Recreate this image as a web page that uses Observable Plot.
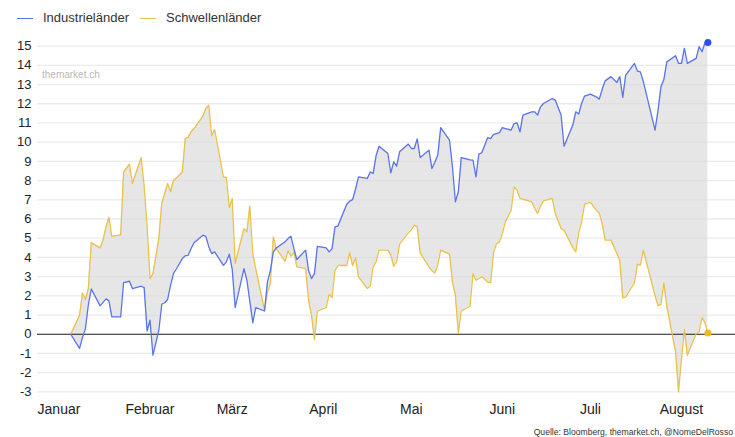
<!DOCTYPE html>
<html>
<head>
<meta charset="utf-8">
<script src="https://cdn.jsdelivr.net/npm/d3@7"></script>
<script src="https://cdn.jsdelivr.net/npm/@observablehq/plot@0.6"></script>
<style>
  body { margin: 0; background: #ffffff; font-family: "Liberation Sans", Arial, sans-serif; width: 735px; height: 437px; overflow: hidden; position: relative; }
  #legend { height: 34px; position: relative; font-size: 13px; color: #333; }
  .item { position: absolute; top: 11px; display: flex; align-items: center; line-height: 14px; }
  .sw { width: 16px; height: 0; border-top: 1.5px solid; margin-right: 10px; }
  #chart { position: relative; height: 386px; }
  #wm { position: absolute; left: 42px; top: 69px; font-size: 10px; color: #b8b8b8; }
  #caption { position: absolute; right: 2px; top: 427px; font-size: 8.6px; white-space: nowrap; color: #333; }
</style>
</head>
<body>
<div id="legend"></div>
<div id="chart"></div>
<div id="wm">themarket.ch</div>
<div id="caption"></div>
<script>
// Tage seit 1. Januar
const tage = [4,7,8,9,10,11,14,15,16,17,18,21,22,24,25,28,29,30,31,32,34,35,36,37,38,39,40,42,43,44,45,46,49,50,51,52,53,56,57,58,59,60,63,64,65,66,67,70,71,72,73,74,77,78,79,80,81,84,85,86,87,88,91,92,93,94,95,98,99,100,101,102,105,106,107,108,109,112,113,114,115,116,119,120,121,122,123,126,127,128,129,130,133,134,135,136,137,140,141,142,143,144,146,147,148,149,150,151,152,154,155,156,157,158,161,162,163,164,165,168,169,171,172,175,176,177,178,179,181,183,184,185,186,188,190,191,192,193,196,197,198,199,203,204,205,206,207,210,211,212,213,214,217,218,219,220,221];
const industrie = [0,-0.73,-0.17,0.29,1.54,2.36,1.48,1.66,1.84,1.74,0.90,0.90,2.69,2.76,2.38,2.50,2.43,0.17,0.73,-1.09,0.21,1.56,1.64,1.81,2.56,3.17,3.41,3.94,4.09,4.11,4.47,4.76,5.16,5.10,4.56,4.20,4.29,3.59,3.77,4.17,3.38,1.39,3.42,2.81,1.71,0.59,1.39,1.21,2.73,3.33,4.29,4.49,4.82,4.98,5.10,4.46,3.89,4.38,3.32,2.90,3.16,4.58,4.50,4.29,4.46,5.59,5.63,6.77,6.93,7.01,7.55,8.19,8.11,8.45,8.37,9.30,9.79,9.41,8.40,8.97,8.75,9.50,9.90,9.67,9.67,10.17,9.20,9.58,8.63,8.95,9.32,10.76,10.10,8.71,6.89,7.42,9.20,9.08,9.06,8.19,9.38,9.45,10.24,10.19,10.40,10.45,10.49,10.76,10.71,10.63,10.97,11.01,10.54,11.41,11.58,11.58,11.41,11.84,12.01,12.27,12.19,11.41,9.79,10.89,11.58,11.46,12.03,12.40,12.50,12.36,12.24,12.75,13.19,13.41,13.11,13.41,12.33,13.49,14.10,13.70,13.66,13.16,10.63,11.64,12.88,13.26,14.18,14.50,14.10,14.10,14.88,14.10,14.36,14.97,14.71,15.17,15.19];
const schwellen = [0,0.99,2.15,1.81,2.38,4.77,4.50,4.90,5.60,6.08,5.10,5.17,8.45,8.85,7.85,9.20,7.71,5.66,2.90,3.15,4.98,6.83,7.33,7.85,7.42,8.02,8.14,8.45,10.19,10.25,10.54,10.71,11.35,11.75,11.93,10.33,10.66,8.19,8.16,6.60,7.07,3.68,5.50,5.33,6.68,4.20,3.42,1.25,2.18,2.64,5.07,4.46,3.80,4.34,4.06,4.27,3.51,3.42,1.77,0.98,-0.28,1.21,1.39,2.08,1.91,3.33,3.58,3.58,4.24,3.58,3.99,2.99,2.38,2.50,3.51,3.77,4.38,4.38,4.13,3.54,3.77,4.69,5.28,5.45,5.68,5.59,4.24,3.51,3.31,3.19,3.61,4.38,4.17,2.72,2.03,0.07,1.21,1.46,3.16,2.81,2.90,2.99,2.72,2.69,4.24,4.72,4.81,5.23,5.85,6.46,7.67,7.50,7.07,7.03,6.89,6.56,6.29,6.67,6.94,7.07,6.29,5.50,5.42,4.51,4.29,5.28,5.85,6.77,6.86,6.46,6.29,5.76,4.90,4.90,4.20,3.85,1.89,1.94,2.69,3.65,3.59,4.38,2.01,1.49,1.56,2.67,1.46,-0.92,-3.00,-1.27,0.24,-1.09,0.04,0.12,0.87,0.59,0.07];
const serien = ["Industrieländer", "Schwellenländer"];
const farben = ["#5b73ec", "#e9c24c"];
const punktFarben = ["#2d4fe8", "#efbb1c"];
const monate = ["Januar", "Februar", "März", "April", "Mai", "Juni", "Juli", "August"];
const yTicks = d3.range(-3, 16);
const quelle = "Quelle: Bloomberg, themarket.ch, @NomeDelRosso";

const start = Date.UTC(2023, 0, 1);
const tagMs = 864e5;
const table = tage.map((t, i) => ({
  datum: new Date(start + t * tagMs),
  ind: industrie[i],
  sch: schwellen[i]
}));
const last = [table[table.length - 1]];
const monatsTicks = monate.map((m, i) => new Date(Date.UTC(2023, i, 1)));

// legend
const legend = document.getElementById("legend");
const lefts = [17, 140];
serien.forEach((s, i) => {
  const it = document.createElement("div");
  it.className = "item";
  it.style.left = lefts[i] + "px";
  it.innerHTML = `<span class="sw" style="border-color:${farben[i]}"></span><span>${s}</span>`;
  legend.appendChild(it);
});
document.getElementById("caption").textContent = quelle;

const chart = Plot.plot({
  width: 735,
  height: 386,
  marginTop: 2,
  marginBottom: 19,
  marginLeft: 37,
  marginRight: 0,
  style: { fontFamily: "Liberation Sans, Arial, sans-serif", fontSize: "13px", color: "#222", background: "transparent" },
  x: { type: "utc", domain: [new Date(start - 7.32 * tagMs), new Date(start + 230.4 * tagMs)] },
  y: { domain: [-3.5, 15.5] },
  marks: [
    Plot.ruleY(yTicks.filter(v => v !== 0), { stroke: "#ebebeb", strokeWidth: 1.3 }),
    Plot.areaY(table, { x: "datum", y1: "ind", y2: "sch", fill: "#d9d9d9", fillOpacity: 0.65 }),
    Plot.ruleY([0], { stroke: "#1a1a1a", strokeWidth: 1.1 }),
    Plot.lineY(table, { x: "datum", y: "sch", stroke: farben[1], strokeWidth: 1.3 }),
    Plot.lineY(table, { x: "datum", y: "ind", stroke: farben[0], strokeWidth: 1.3 }),
    Plot.dot(last, { x: "datum", y: "ind", r: 3.5, fill: punktFarben[0], stroke: null }),
    Plot.dot(last, { x: "datum", y: "sch", r: 3.5, fill: punktFarben[1], stroke: null }),
    Plot.axisY({ ticks: yTicks, tickSize: 0, tickPadding: 6, tickFormat: d => String(d), fontSize: 13, label: null }),
    Plot.axisX({ ticks: monatsTicks, tickSize: 0, tickPadding: 3, tickFormat: d => monate[d.getUTCMonth()], fontSize: 14, label: null })
  ]
});
document.getElementById("chart").appendChild(chart);
</script>
</body>
</html>
